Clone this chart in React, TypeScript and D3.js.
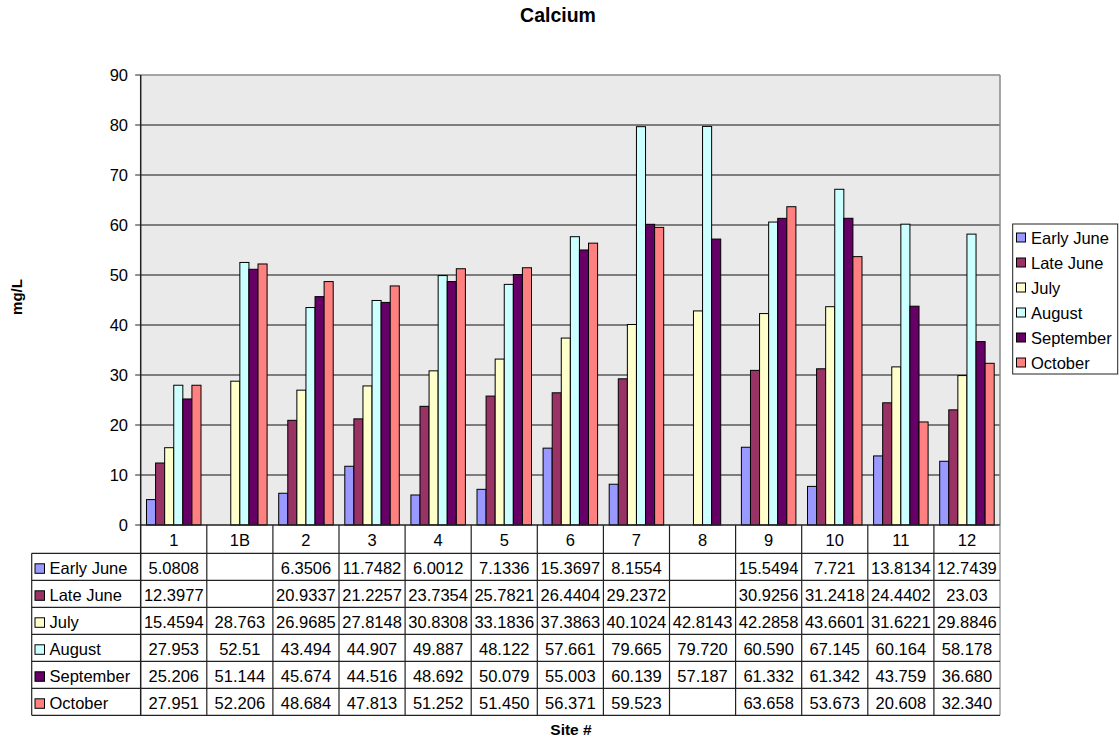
import React from "react";
import * as d3 from "d3";

const sites = ["1", "1B", "2", "3", "4", "5", "6", "7", "8", "9", "10", "11", "12"];
const seriesNames = ["Early June", "Late June", "July", "August", "September", "October"];
const seriesColors = ["#9999FF", "#993366", "#FFFFCC", "#CCFFFF", "#660066", "#FF8080"];

const earlyJune = ["5.0808", "", "6.3506", "11.7482", "6.0012", "7.1336", "15.3697", "8.1554", "", "15.5494", "7.721", "13.8134", "12.7439"];
const lateJune = ["12.3977", "", "20.9337", "21.2257", "23.7354", "25.7821", "26.4404", "29.2372", "", "30.9256", "31.2418", "24.4402", "23.03"];
const july = ["15.4594", "28.763", "26.9685", "27.8148", "30.8308", "33.1836", "37.3863", "40.1024", "42.8143", "42.2858", "43.6601", "31.6221", "29.8846"];
const august = ["27.953", "52.51", "43.494", "44.907", "49.887", "48.122", "57.661", "79.665", "79.720", "60.590", "67.145", "60.164", "58.178"];
const september = ["25.206", "51.144", "45.674", "44.516", "48.692", "50.079", "55.003", "60.139", "57.187", "61.332", "61.342", "43.759", "36.680"];
const october = ["27.951", "52.206", "48.684", "47.813", "51.252", "51.450", "56.371", "59.523", "", "63.658", "53.673", "20.608", "32.340"];

const seriesValues = [earlyJune, lateJune, july, august, september, october];
const yTicks = [0, 10, 20, 30, 40, 50, 60, 70, 80, 90];

const FONT = "'Liberation Sans', Arial, Helvetica, sans-serif";

export default function App() {
  const W = 1119, H = 741;
  const left = 140.7, right = 1000, top = 75, bottom = 525;
  const rowH = 27;
  const tableTop = 553.3;
  const tableLeft = 31.7;
  const fs = 16.5;

  const x = d3.scaleBand<string>().domain(sites).range([left, right]).padding(0);
  const catW = x.bandwidth();
  const inner = d3.scaleBand<string>().domain(seriesNames).range([5.8, catW - 5.8]).padding(0);
  const y = d3.scaleLinear().domain([0, 90]).range([bottom, top]);

  const rows = seriesNames.map((name, i) => ({ name, color: seriesColors[i], vals: seriesValues[i] }));
  const tableBottom = tableTop + rowH * rows.length;

  return (
    <svg width={W} height={H} style={{ position: "absolute", left: 0, top: 0, fontFamily: FONT }}>
      <rect x={0} y={0} width={W} height={H} fill="#fff" />
      {/* title */}
      <text x={558} y={22} textAnchor="middle" fontSize={19.5} fontWeight="bold">Calcium</text>
      {/* plot area */}
      <rect x={left} y={top} width={right - left} height={bottom - top} fill="#EAEAEA" />
      {yTicks.filter((t) => t > 0 && t < 90).map((t) => (
        <line key={"g" + t} x1={left} x2={right} y1={y(t)} y2={y(t)} stroke="#111" strokeWidth={1.2} />
      ))}
      <line x1={left} x2={right} y1={top} y2={top} stroke="#888" strokeWidth={1.5} />
      <line x1={right} x2={right} y1={top} y2={bottom} stroke="#888" strokeWidth={1.5} />
      {/* bars */}
      {rows.map((r) =>
        sites.map((s, j) => {
          const v = r.vals[j];
          if (v === "") return null;
          const val = +v;
          const bx = (x(s) as number) + (inner(r.name) as number);
          return (
            <rect key={r.name + s} x={bx} y={y(val)} width={inner.bandwidth()} height={y(0) - y(val)}
              fill={r.color} stroke="#000" strokeWidth={1} />
          );
        })
      )}
      {/* y axis */}
      <line x1={left} x2={left} y1={top} y2={tableBottom} stroke="#222" strokeWidth={1.5} />
      {yTicks.map((t) => (
        <g key={"t" + t}>
          <line x1={left - 5.5} x2={left} y1={y(t)} y2={y(t)} stroke="#222" strokeWidth={1} />
          <text x={128} y={y(t) + 5.8} textAnchor="end" fontSize={fs}>{t}</text>
        </g>
      ))}
      <line x1={left} x2={right} y1={bottom} y2={bottom} stroke="#222" strokeWidth={1.5} />
      <text transform={`translate(22,297) rotate(-90)`} textAnchor="middle" fontSize={15} fontWeight="bold">mg/L</text>
      {/* table */}
      {sites.map((s) => (
        <g key={"c" + s}>
          <text x={(x(s) as number) + catW / 2} y={bottom + 20.5} textAnchor="middle" fontSize={fs}>{s}</text>
          <line x1={(x(s) as number) + catW} x2={(x(s) as number) + catW} y1={bottom} y2={tableBottom}
            stroke={s === "12" ? "#888" : "#222"} strokeWidth={1.2} />
        </g>
      ))}
      <line x1={tableLeft} x2={tableLeft} y1={tableTop} y2={tableBottom} stroke="#222" strokeWidth={1.2} />
      {d3.range(rows.length + 1).map((i) => (
        <line key={"h" + i} x1={tableLeft} x2={right} y1={tableTop + i * rowH} y2={tableTop + i * rowH}
          stroke="#222" strokeWidth={1.2} />
      ))}
      {rows.map((r, i) => {
        const ry = tableTop + i * rowH;
        return (
          <g key={"r" + r.name}>
            <rect x={35} y={ry + 10.5} width={9.5} height={9.5} fill={r.color} stroke="#000" strokeWidth={1} />
            <text x={49.5} y={ry + 20.8} fontSize={fs}>{r.name}</text>
            {sites.map((s, j) => (
              <text key={s} x={(x(s) as number) + catW / 2} y={ry + 20.8} textAnchor="middle" fontSize={fs}>
                {r.vals[j]}
              </text>
            ))}
          </g>
        );
      })}
      <text x={571} y={735} textAnchor="middle" fontSize={15.5} fontWeight="bold">Site #</text>
      {/* legend */}
      <rect x={1012.7} y={224} width={105} height={150} fill="#fff" stroke="#222" strokeWidth={1} />
      {rows.map((r, i) => {
        const ly = 238 + i * 25;
        return (
          <g key={"l" + r.name}>
            <rect x={1016.5} y={ly - 5} width={9} height={9} fill={r.color} stroke="#000" strokeWidth={1} />
            <text x={1031} y={ly + 5.8} fontSize={fs}>{r.name}</text>
          </g>
        );
      })}
    </svg>
  );
}
